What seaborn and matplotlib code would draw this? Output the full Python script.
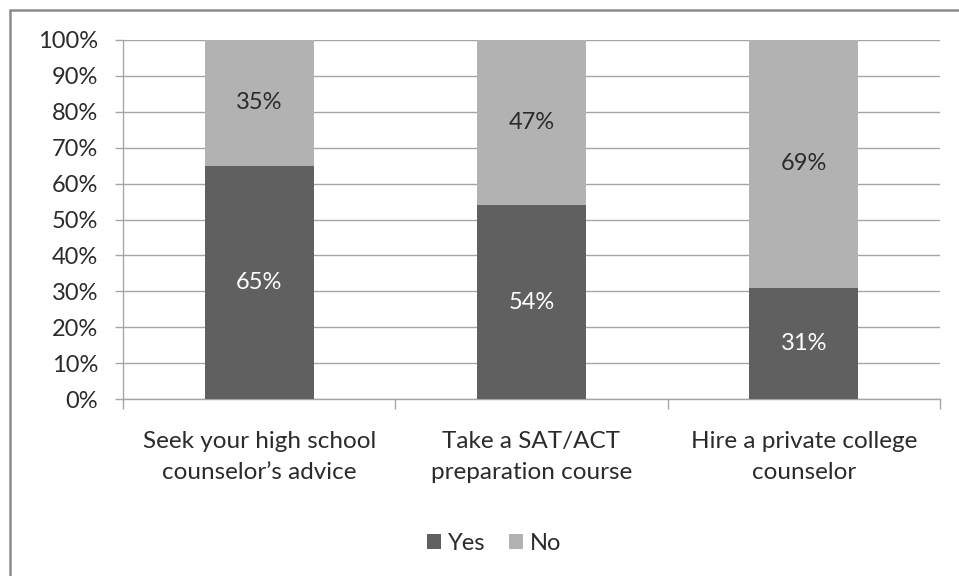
import matplotlib
matplotlib.use("Agg")
import matplotlib.pyplot as plt
import seaborn as sns
import numpy as np
import pandas as pd
from matplotlib.patches import Patch
from matplotlib.lines import Line2D

categories = ["Seek your high school\ncounselor\u2019s advice",
              "Take a SAT/ACT\npreparation course",
              "Hire a private college\ncounselor"]
yes_vals = [65, 54, 31]
no_vals = [35, 47, 69]
yticks = [0, 10, 20, 30, 40, 50, 60, 70, 80, 90, 100]

DARK = "#606060"
LIGHT = "#b2b2b2"
GRID = "#a6a6a6"
TEXT = "#2b2b2b"

sns.set_theme(style="white")
plt.rcParams['font.family'] = ['Lato', 'DejaVu Sans']

fig = plt.figure(figsize=(9.59, 5.76), dpi=100)
ax = fig.add_axes([123/959, 1-399/576, (940-123)/959, (399-40)/576])

df = pd.DataFrame({"cat": categories, "yes": yes_vals, "no": no_vals})
df["total"] = df["yes"] + df["no"]

sns.barplot(data=df, x="cat", y="total", color=LIGHT, saturation=1, width=0.4,
            ax=ax, zorder=2)
sns.barplot(data=df, x="cat", y="yes", color=DARK, saturation=1, width=0.4,
            ax=ax, zorder=3)
for p in ax.patches:
    p.set_edgecolor("none")

for i, (y, n) in enumerate(zip(yes_vals, no_vals)):
    ax.text(i, y/2, f"{y}%", ha="center", va="center", color="white",
            fontsize=17, zorder=4)
    ax.text(i, y + (100 - y)/2, f"{n}%", ha="center", va="center",
            color=TEXT, fontsize=17, zorder=4)

ax.set_ylim(0, 100)
ax.set_xlim(-0.5, 2.5)
ax.set_yticks(yticks)
ax.set_yticklabels([f"{t}%" for t in yticks], fontsize=17, color=TEXT)
ax.yaxis.grid(True, color=GRID, linewidth=1, zorder=0)
ax.set_axisbelow(True)
ax.set_xlabel("")
ax.set_ylabel("")

for s in ["top", "right"]:
    ax.spines[s].set_visible(False)
for s in ["left", "bottom"]:
    ax.spines[s].set_color(GRID)
    ax.spines[s].set_linewidth(1)

ax.tick_params(axis="y", which="major", left=True, length=6, width=1,
               color=GRID, pad=12)
ax.set_xticks(range(len(categories)))
ax.set_xticklabels(categories, fontsize=17.5, color=TEXT, linespacing=1.6)
ax.tick_params(axis="x", which="major", bottom=False, length=0, pad=23)
ax.set_xticks([-0.5, 0.5, 1.5, 2.5], minor=True)
ax.tick_params(axis="x", which="minor", bottom=True, length=7, width=1,
               color=GRID)

handles = [Patch(facecolor=DARK, edgecolor="none", label="Yes"),
           Patch(facecolor=LIGHT, edgecolor="none", label="No")]
leg = fig.legend(handles=handles, loc="center", bbox_to_anchor=(494/959, 1-543/576),
                 ncol=2, frameon=False, fontsize=17, handlelength=0.6,
                 handleheight=0.6, handletextpad=0.3, columnspacing=1.0)
for t in leg.get_texts():
    t.set_color(TEXT)

# outer chart frame
fig.add_artist(Line2D([9.5/959, 9.5/959], [0, 1-9.5/576], transform=fig.transFigure,
                      color="#8c8c8c", linewidth=1.8))
fig.add_artist(Line2D([9.5/959, 1], [1-9.5/576, 1-9.5/576], transform=fig.transFigure,
                      color="#8c8c8c", linewidth=1.8))

fig.savefig("out.png", dpi=100, facecolor="white")
